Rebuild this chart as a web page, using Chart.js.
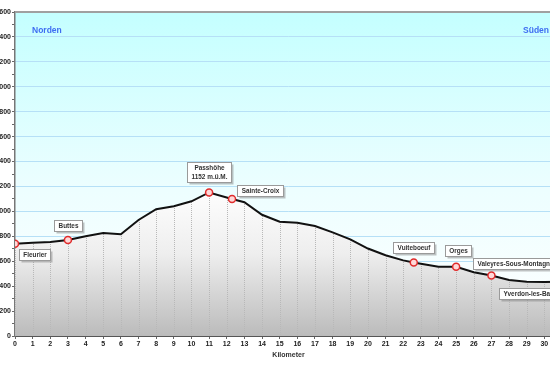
<!DOCTYPE html>
<html>
<head>
<meta charset="utf-8">
<script src="https://cdn.jsdelivr.net/npm/chart.js@4"></script>
<style>
  html, body { margin: 0; padding: 0; overflow: hidden; background: #fff; }
  #wrap { position: absolute; left: 0; top: 0; }
</style>
</head>
<body>
<div id="wrap"><canvas id="myChart" width="570" height="372"></canvas></div>
<script>
// elevation profile, km / m.ü.M.
const kmProfile = [0, 1, 2, 3, 4, 5, 6, 7, 8, 9, 10, 11, 12.3, 13, 14, 15, 16, 17, 18, 19, 20, 21, 22, 22.6, 23, 24, 25, 26, 27, 28, 29, 30, 31];
const elevation = [740, 749, 754, 770, 800, 826, 816, 931, 1017, 1042, 1081, 1152, 1100, 1073, 973, 917, 909, 883, 832, 776, 702, 648, 607, 590, 580, 556, 555, 511, 485, 449, 436, 433, 435];

// places along the route
const placeNames = ['Fleurier', 'Buttes', 'Passhöhe\n1152 m.ü.M.', 'Sainte-Croix', 'Vuiteboeuf', 'Orges', 'Valeyres-Sous-Montagny', 'Yverdon-les-Bains'];
const placeKm = [0, 3, 11, 12.3, 22.6, 25, 27, 31];
const placeElev = [740, 770, 1152, 1100, 590, 555, 485, 435];

// label box placement relative to the marker (pixels)
const labelDx = [19.5, 0, 0, 28, 0, 2, -18, -63];
const labelDy = [10.5, -14.5, -20, -8.5, -14.5, -16, -12.5, 11.7];
const labelAlign = ['center', 'center', 'center', 'center', 'center', 'center', 'left', 'left'];

const FONT = 'Liberation Sans, Arial, sans-serif';

const bgPlugin = {
    id: 'bgPlugin',
    beforeDraw(chart) {
        const a = chart.chartArea;
        const c = chart.ctx;
        const g = c.createLinearGradient(0, a.top, 0, a.bottom);
        g.addColorStop(0, '#c4ffff');
        g.addColorStop(0.55, '#edfeff');
        g.addColorStop(1, '#ffffff');
        c.save();
        c.fillStyle = g;
        c.fillRect(a.left, a.top, a.right - a.left, a.bottom - a.top);
        c.restore();
    },
    beforeDatasetDraw(chart, args) {
        // dotted km lines, only under the profile
        if (args.index !== 1) return;
        const pts = chart.getDatasetMeta(1).data;
        const a = chart.chartArea;
        const c = chart.ctx;
        c.save();
        c.beginPath();
        c.moveTo(pts[0].x, pts[0].y);
        pts.forEach(p => c.lineTo(p.x, p.y));
        c.lineTo(pts[pts.length - 1].x, a.bottom);
        c.lineTo(pts[0].x, a.bottom);
        c.closePath();
        c.clip();
        c.strokeStyle = '#b8b8b8';
        c.lineWidth = 1;
        c.setLineDash([1, 1]);
        chart.scales.x.ticks.forEach(t => {
            const x = Math.round(chart.scales.x.getPixelForValue(t.value)) + 0.5;
            c.beginPath();
            c.moveTo(x, a.top);
            c.lineTo(x, a.bottom);
            c.stroke();
        });
        c.restore();
    },
    afterDatasetsDraw(chart) {
        const a = chart.chartArea;
        const c = chart.ctx;
        const xs = chart.scales.x, ys = chart.scales.y;
        c.save();
        // top border
        c.strokeStyle = '#a0a0a0';
        c.lineWidth = 2;
        c.beginPath();
        c.moveTo(a.left, a.top);
        c.lineTo(a.right, a.top);
        c.stroke();
        // direction texts
        c.font = 'bold 8.5px ' + FONT;
        c.fillStyle = '#3f6ef2';
        c.textBaseline = 'middle';
        c.textAlign = 'left';
        c.fillText('Norden', a.left + 17, a.top + 19);
        c.textAlign = 'right';
        c.fillText('Süden', a.right - 13, a.top + 19);
        // place labels
        c.font = 'bold 6.4px ' + FONT;
        placeNames.forEach((name, i) => {
            const px = xs.getPixelForValue(placeKm[i]);
            const py = ys.getPixelForValue(placeElev[i]);
            const lines = name.split('\n');
            const w = Math.round(Math.max(...lines.map(l => c.measureText(l).width)) + 8);
            const h = Math.round(lines.length * 9.5 + 1);
            const cy = py + labelDy[i];
            let left = labelAlign[i] === 'left' ? px + labelDx[i] : px + labelDx[i] - w / 2;
            left = Math.round(left) + 0.5;
            const top = Math.round(cy - h / 2) + 0.5;
            c.fillStyle = 'rgba(120,120,120,0.45)';
            c.fillRect(left + 2, top + 2, w, h);
            c.fillStyle = '#ffffff';
            c.fillRect(left, top, w, h);
            c.strokeStyle = '#9a9a9a';
            c.lineWidth = 1;
            c.strokeRect(left, top, w, h);
            c.fillStyle = '#333333';
            c.textAlign = 'center';
            c.textBaseline = 'middle';
            lines.forEach((l, j) => {
                c.fillText(l, left + w / 2, top + 5.5 + j * 9.5);
            });
        });
        c.restore();
    }
};

const config = {
    type: 'line',
    data: {
        datasets: [{
            label: 'Orte',
            data: placeKm.map((k, i) => ({ x: k, y: placeElev[i] })),
            showLine: false,
            pointRadius: 3.5,
            pointBackgroundColor: '#ffd8d8',
            pointBorderColor: '#e02c2c',
            pointBorderWidth: 1.5,
            order: 0
        }, {
            label: 'Höhe',
            data: kmProfile.map((k, i) => ({ x: k, y: elevation[i] })),
            borderColor: '#111111',
            borderWidth: 2,
            pointRadius: 0,
            tension: 0,
            fill: 'origin',
            backgroundColor: (ctx) => {
                const chart = ctx.chart;
                const a = chart.chartArea;
                if (!a) return '#e0e0e0';
                const top = chart.scales.y.getPixelForValue(1200);
                const g = chart.ctx.createLinearGradient(0, top, 0, a.bottom);
                g.addColorStop(0, '#ffffff');
                g.addColorStop(0.45, '#eeeeee');
                g.addColorStop(1, '#bbbbbb');
                return g;
            },
            order: 1
        }]
    },
    options: {
        responsive: false,
        devicePixelRatio: 1,
        animation: false,
        layout: { padding: { top: 12, right: 8, left: 0, bottom: 0 } },
        plugins: {
            legend: { display: false },
            tooltip: { enabled: false }
        },
        scales: {
            x: {
                type: 'linear',
                min: 0,
                max: 31,
                afterFit: (s) => { s.height = 36; },
                ticks: {
                    stepSize: 1,
                    autoSkip: false,
                    maxRotation: 0,
                    padding: 1,
                    color: '#222',
                    font: { family: FONT, size: 7, weight: 'bold' }
                },
                grid: { drawOnChartArea: false, tickLength: 3, tickColor: '#666' },
                border: { color: '#555', width: 2 },
                title: {
                    display: true,
                    text: 'Kilometer',
                    color: '#333',
                    font: { family: FONT, size: 7, weight: 'bold' },
                    padding: { top: 0, bottom: 13 }
                }
            },
            y: {
                min: 0,
                max: 2600,
                afterFit: (s) => { s.width = 15; },
                ticks: {
                    stepSize: 100,
                    autoSkip: false,
                    padding: 1,
                    color: '#222',
                    font: { family: FONT, size: 7, weight: 'bold' },
                    callback: (v) => (v % 200 === 0 ? String(v) : '')
                },
                grid: {
                    color: (ctx) => (ctx.tick && ctx.tick.value % 200 === 0 && ctx.tick.value > 0 ? '#b6e0f7' : 'rgba(0,0,0,0)'),
                    tickColor: '#666',
                    tickLength: 3
                },
                border: { color: '#777', width: 1.5 }
            }
        }
    },
    plugins: [bgPlugin]
};

const ctx = document.getElementById('myChart').getContext('2d');
const myChart = new Chart(ctx, config);
</script>
</body>
</html>
